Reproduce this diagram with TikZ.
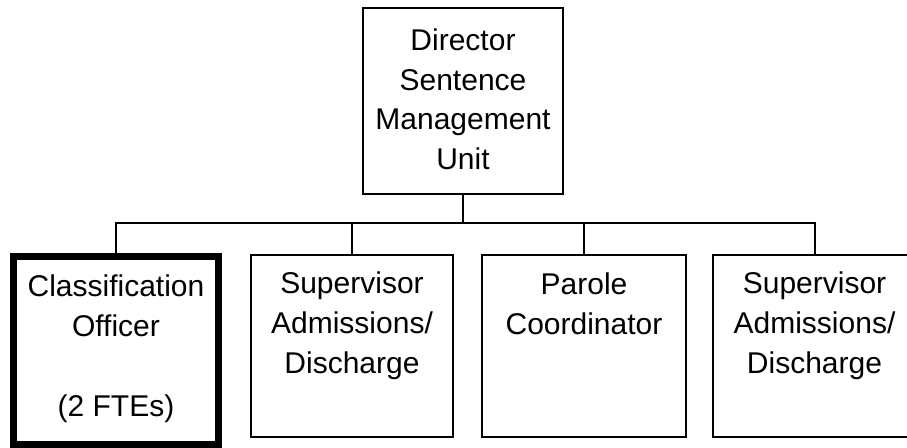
\documentclass[tikz,border=0pt]{standalone}
\usepackage{fontspec}
\setmainfont{Liberation Sans}
\begin{document}
\begin{tikzpicture}[x=1pt,y=-1pt,
  box/.style={draw, line width=2pt, inner sep=0pt, minimum height=182pt},
  txt/.style={anchor=north, inner sep=0pt, align=center, font=\fontsize{30}{40}\selectfont},
  link/.style={line width=2pt}]
\useasboundingbox (0,0) rectangle (907,447);
% top
\node[box, minimum width=200pt, minimum height=186pt] (dir) at (463,101) {};
\node[txt, font=\fontsize{30}{39.5}\selectfont] (dirt) at ([yshift=-16pt]dir.north) {\strut Director\\Sentence\\Management\\Unit};
% bottom row
\node[box, line width=7pt, minimum width=205pt, minimum height=187.5pt] (cls) at (116,350.25) {};
\node[txt] (clst) at ([yshift=-15.5pt]cls.north) {\strut Classification\\Officer\\\strut\\(2 FTEs)};
\node[box, minimum width=202pt] (b2) at (352,346) {};
\node[txt] (b2t) at ([yshift=-11pt]b2.north) {\strut Supervisor\\Admissions/\\Discharge};
\node[box, minimum width=204pt] (b3) at (584,346) {};
\node[txt] (b3t) at ([yshift=-12pt]b3.north) {\strut Parole\\Coordinator};
\node[box, minimum width=203pt] (b4) at (814.5,346) {};
\node[txt] (b4t) at ([yshift=-11pt]b4.north) {\strut Supervisor\\Admissions/\\Discharge};
% connectors
\coordinate (bus) at (463,223);
\draw[link] (dir.south) -- (bus);
\draw[link] (cls.north) |- (bus) -| (b4.north);
\draw[link] (b2.north) -- (b2.north |- bus);
\draw[link] (b3.north) -- (b3.north |- bus);
\end{tikzpicture}
\end{document}
